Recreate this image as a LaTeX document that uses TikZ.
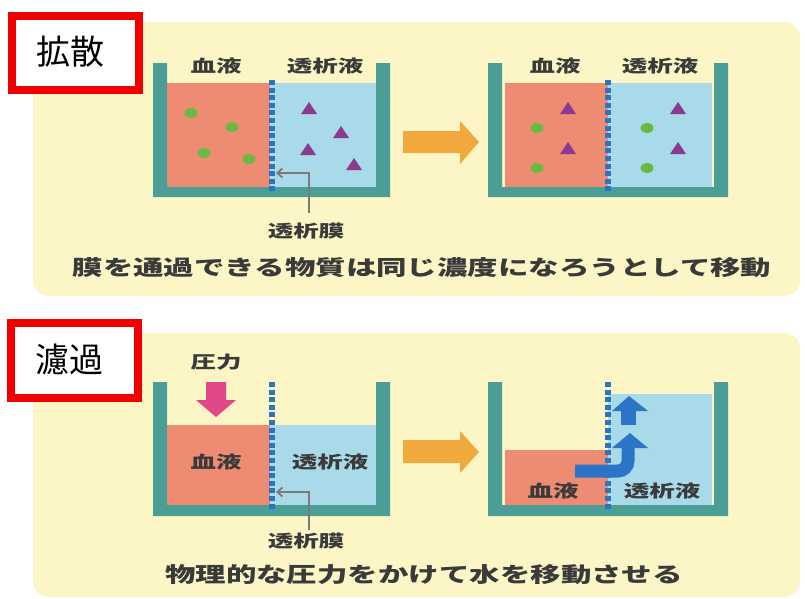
\documentclass[tikz,border=0pt]{standalone}
\usepackage{fontspec}
\usepackage{graphicx}
\setmainfont{Noto Sans CJK JP}
\usetikzlibrary{arrows.meta}

\definecolor{panelyellow}{HTML}{FCF6C6}
\definecolor{wallteal}{HTML}{4A9E96}
\definecolor{bloodsalmon}{HTML}{EE8C73}
\definecolor{dialblue}{HTML}{A9DAEA}
\definecolor{membblue}{HTML}{2F72C0}
\definecolor{flowblue}{HTML}{2C74C8}
\definecolor{arroworange}{HTML}{F1A83C}
\definecolor{presspink}{HTML}{E2478A}
\definecolor{dotgreen}{HTML}{6AB945}
\definecolor{triviolet}{HTML}{8B3A8F}
\definecolor{labelgray}{HTML}{3A3A3A}
\definecolor{pointergray}{HTML}{7A7A7A}
\definecolor{titlered}{HTML}{F20000}

\newcommand\wide[1]{\scalebox{1.5}[1]{#1}}
\newcommand\widecap[1]{\scalebox{1.45}[1]{#1}}
\newcommand\molA[1]{\fill[dotgreen] (#1) ellipse [x radius=6.5pt, y radius=5pt];}
\newcommand\molB[1]{\fill[triviolet] (#1) ++(-8,6) -- ++(16,0) -- ++(-8,-12) -- cycle;}
% teal U-shaped vessel: left x, right x, top y, bottom y, inner bottom y
\newcommand\vessel[5]{\fill[wallteal] (#1,#3) -- ++(14,0) |- (#2-14,#5) |- (#2,#3) |- (#1,#4) -- cycle;}

\tikzset{
  panel/.style={fill=panelyellow, rounded corners=16pt},
  titlebox/.style={draw=titlered, line width=8pt, fill=white},
  titletext/.style={font=\fontsize{34}{36}\selectfont, text=black},
  lbl/.style={font=\fontsize{17}{18}\selectfont\bfseries, text=labelgray, inner sep=0pt},
  caption/.style={font=\fontsize{21}{22}\selectfont\bfseries, text=labelgray, inner sep=0pt},
  membrane/.style={draw=membblue, line width=6pt, dash pattern=on 5pt off 2.6pt},
  pointer/.style={draw=pointergray, line width=1.8pt, -{Straight Barb[length=5pt,width=9pt]}},
  bigarrow/.style={fill=arroworange},
  flow/.style={draw=flowblue, line width=13pt}
}

\begin{document}
\begin{tikzpicture}[x=1pt,y=-1pt]
\useasboundingbox (0,0) rectangle (805,598);
\fill[white] (0,0) rectangle (805,598);

% ---------------- diffusion ----------------
\fill[panel] (33,22) rectangle (800,296);
\draw[titlebox] (12,16) rectangle (139,90);
\node[titletext] (t1) at (70,52) {拡散};

% vessel before
\fill[bloodsalmon] (167,83) rectangle (270,187);
\fill[dialblue] (270,83) rectangle (376,187);
\vessel{153}{390}{63}{197}{187}
\draw[membrane] (272,80) -- (272,192);
\node[lbl] (b1) at (216,66) {\wide{血液}};
\node[lbl] (d1) at (325,66) {\wide{透析液}};
\molA{191,113} \molA{232,127} \molA{204,153} \molA{249,159}
\molB{309,108} \molB{341,132} \molB{308,149} \molB{354,164}
\node[lbl] (m1) at (306,231) {\wide{透析膜}};
\coordinate (m1tail) at (309,213);
\coordinate (m1tip) at (276,173);
\draw[pointer] (m1tail) |- (m1tip);

% transition arrow
\fill[bigarrow] (403,131) -- (460,131) -- (460,121) -- (479,142) -- (460,164) -- (460,153) -- (403,153) -- cycle;

% vessel after
\fill[bloodsalmon] (505,83) rectangle (608,187);
\fill[dialblue] (608,83) rectangle (712,187);
\vessel{488}{728}{63}{197}{187}
\draw[membrane] (608,80) -- (608,192);
\node[lbl] (b2) at (555,66) {\wide{血液}};
\node[lbl] (d2) at (660,66) {\wide{透析液}};
\molB{568,108} \molB{568,148} \molA{537,128} \molA{537,168}
\molB{678,108} \molB{678,148} \molA{647,128} \molA{647,168}

\node[caption] (c1) at (422,268) {\widecap{膜を通過できる物質は同じ濃度になろうとして移動}};

% ---------------- filtration ----------------
\fill[panel] (33,333) rectangle (800,597);
\draw[titlebox] (11,323) rectangle (138,398);
\node[titletext] (t2) at (69,360) {濾過};

% vessel under pressure
\fill[bloodsalmon] (167,425) rectangle (270,505);
\fill[dialblue] (270,425) rectangle (376,505);
\vessel{153}{390}{382}{516}{505}
\draw[membrane] (272,382) -- (272,510);
\node[lbl] (p1) at (216,362) {\wide{圧力}};
\fill[presspink] (206,382) -- (226,382) -- (226,400) -- (236,400) -- (216,417) -- (196,400) -- (206,400) -- cycle;
\node[lbl] (b3) at (216,462) {\wide{血液}};
\node[lbl] (d3) at (330,462) {\wide{透析液}};
\node[lbl] (m3) at (306,541) {\wide{透析膜}};
\coordinate (m3tail) at (309,530);
\coordinate (m3tip) at (276,492);
\draw[pointer] (m3tail) |- (m3tip);

% transition arrow
\fill[bigarrow] (403,440) -- (460,440) -- (460,431) -- (479,452) -- (460,473) -- (460,463) -- (403,463) -- cycle;

% vessel after filtration
\fill[bloodsalmon] (505,450) rectangle (608,505);
\fill[dialblue] (608,394) rectangle (712,505);
\vessel{488}{728}{382}{516}{505}
\draw[membrane] (608,382) -- (608,510);
\node[lbl] (b4) at (553,491) {\wide{血液}};
\node[lbl] (d4) at (662,491) {\wide{透析液}};

% water flow through the membrane
\draw[flow, rounded corners=10pt] (575,471) -- (628,471) -- (628,447);
\fill[flowblue] (612,448) -- (648,448) -- (630,433) -- cycle;
\fill[flowblue] (621,425) rectangle (636,410);
\fill[flowblue] (612,411) -- (648,411) -- (629,396) -- cycle;

\node[caption] (c2) at (424,575) {\widecap{物理的な圧力をかけて水を移動させる}};
\end{tikzpicture}
\end{document}
